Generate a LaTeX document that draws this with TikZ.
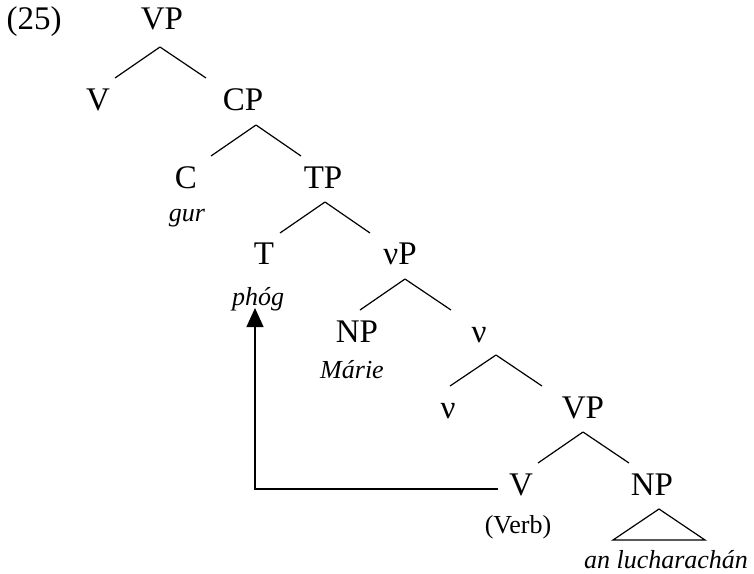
\documentclass[tikz,border=0pt]{standalone}
\usepackage{fontspec}
\setmainfont{Liberation Serif}
\usetikzlibrary{calc,arrows.meta}
\newcommand\treebranch[6]{\draw[branch] ($(#1.base)+(#2,#3)$) -- ($(#4.base)+(#5,#6)$);}
\begin{document}
\begin{tikzpicture}[x=1pt,y=-1pt,
  cat/.style={anchor=base,inner sep=0pt,font=\fontsize{33}{37}\selectfont},
  lex/.style={anchor=base,inner sep=0pt,font=\fontsize{26}{30}\selectfont\itshape},
  gloss/.style={anchor=base,inner sep=0pt,font=\fontsize{26}{30}\selectfont},
  branch/.style={line width=1.2pt},
  move/.style={line width=1.2pt,-{Triangle[length=19pt,width=17pt]}}]
\useasboundingbox (0,0) rectangle (754,573);
\node[cat] (ex) at (34,29) {(25)};
\node[cat] (vp) at (162,29) {VP};
\node[cat] (v) at (98,110) {V};
\node[cat] (cp) at (243,110) {CP};
\node[cat] (c) at (186,188) {C};
\node[cat] (tp) at (323,188) {TP};
\node[lex] (gur) at (187,221) {gur};
\node[cat] (t) at (264,264) {T};
\node[cat] (nup) at (400,264) {νP};
\node[lex] (phog) at (258,305) {phóg};
\node[cat] (np) at (357,342) {NP};
\node[lex] (marie) at (352,378) {Márie};
\node[cat] (nubar) at (479,342) {ν};
\node[cat] (nu) at (448,418) {ν};
\node[cat] (vp2) at (583,418) {VP};
\node[cat] (v2) at (521,495) {V};
\node[cat] (np2) at (652,495) {NP};
\node[gloss] (verb) at (518,533) {(Verb)};
\node[lex] (anl) at (666,568) {an lucharachán};
% branches
\treebranch{vp}{-2}{18}{v}{17}{-32}
\treebranch{vp}{-2}{18}{cp}{-37}{-32}
\treebranch{cp}{13}{15}{c}{25}{-32}
\treebranch{cp}{13}{15}{tp}{-22}{-32}
\treebranch{tp}{2}{14}{t}{16}{-31}
\treebranch{tp}{2}{14}{nup}{-30}{-31}
\treebranch{nup}{5}{15}{np}{3}{-32}
\treebranch{nup}{5}{15}{nubar}{-28}{-32}
\treebranch{nubar}{17}{13}{nu}{2}{-32}
\treebranch{nubar}{17}{13}{vp2}{-41}{-32}
\treebranch{vp2}{0}{14}{v2}{17}{-32}
\treebranch{vp2}{0}{14}{np2}{-23}{-32}
% triangle
\draw[branch,line join=miter] ($(np2.base)+(7,14)$) -- ++(-46,31) -- ++(92,0) -- cycle;
% movement arrow
\draw[move] ($(v2.base)+(-23,-6)$) -| ($(phog.base)+(-3,3)$);
\end{tikzpicture}
\end{document}
